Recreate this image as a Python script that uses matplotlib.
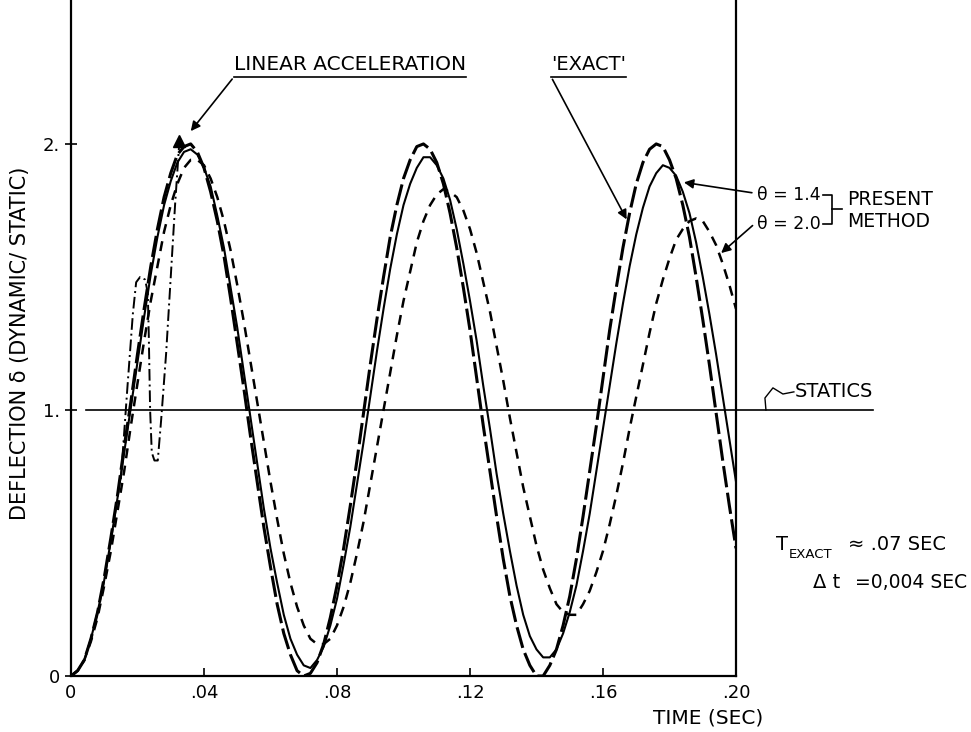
import matplotlib
matplotlib.use('Agg')
import matplotlib.pyplot as plt

plt.rcParams['font.family'] = ['DejaVu Sans']

# time axis, one reading every 0.002 sec
t = [i * 0.002 for i in range(101)]

# 'EXACT' solution
exact = [0.00,0.02,0.06,0.14,0.24,0.37,0.52,0.68,0.86,1.03,1.21,1.38,1.54,1.68,1.80,1.89,1.96,1.99,2.00,1.97,
         1.91,1.82,1.71,1.58,1.42,1.25,1.08,0.90,0.73,0.56,0.41,0.27,0.16,0.08,0.02,0.00,0.01,0.05,0.12,0.22,
         0.34,0.48,0.64,0.81,0.99,1.17,1.34,1.50,1.65,1.77,1.87,1.94,1.99,2.00,1.98,1.93,1.85,1.74,1.61,1.46,
         1.30,1.12,0.94,0.77,0.60,0.44,0.30,0.19,0.10,0.04,0.00,0.00,0.04,0.10,0.19,0.30,0.44,0.60,0.77,0.94,
         1.12,1.30,1.46,1.61,1.74,1.85,1.93,1.98,2.00,1.99,1.94,1.87,1.77,1.65,1.50,1.34,1.17,0.99,0.81,0.64,0.48]

# present method, theta = 1.4
theta_14 = [0.00,0.02,0.06,0.14,0.24,0.36,0.51,0.67,0.84,1.01,1.18,1.35,1.51,1.65,1.77,1.86,1.93,1.97,1.98,1.96,
            1.91,1.84,1.73,1.61,1.46,1.31,1.14,0.97,0.80,0.63,0.48,0.35,0.23,0.14,0.08,0.04,0.03,0.06,0.11,0.19,
            0.29,0.42,0.56,0.72,0.88,1.05,1.22,1.38,1.53,1.66,1.77,1.85,1.91,1.95,1.95,1.92,1.87,1.79,1.68,1.55,
            1.41,1.26,1.09,0.93,0.76,0.61,0.47,0.34,0.23,0.15,0.10,0.07,0.07,0.10,0.16,0.24,0.34,0.47,0.61,0.77,
            0.93,1.09,1.25,1.40,1.54,1.66,1.76,1.84,1.89,1.92,1.91,1.88,1.82,1.74,1.63,1.50,1.36,1.21,1.05,0.89,0.73]

# present method, theta = 2.0
theta_20 = [0.00,0.02,0.06,0.13,0.22,0.34,0.47,0.62,0.77,0.94,1.10,1.26,1.41,1.54,1.67,1.77,1.85,1.91,1.94,1.94,
            1.92,1.87,1.80,1.71,1.60,1.47,1.33,1.18,1.03,0.88,0.73,0.59,0.46,0.35,0.26,0.19,0.14,0.12,0.12,0.14,
            0.19,0.26,0.35,0.46,0.58,0.72,0.86,1.00,1.14,1.28,1.41,1.52,1.63,1.71,1.77,1.81,1.83,1.82,1.80,1.75,
            1.68,1.59,1.48,1.37,1.24,1.11,0.97,0.84,0.71,0.60,0.49,0.40,0.33,0.27,0.24,0.23,0.23,0.27,0.32,0.39,
            0.47,0.57,0.68,0.80,0.93,1.05,1.17,1.29,1.40,1.49,1.57,1.64,1.68,1.71,1.72,1.71,1.67,1.62,1.55,1.47,1.38]

# linear acceleration method (leaves the exact curve early)
lin_t = [0.0150, 0.0170, 0.0186, 0.0196, 0.0208, 0.0223, 0.0231, 0.0234, 0.0238,
         0.0243, 0.0251, 0.0261, 0.0271, 0.0286, 0.0301, 0.0313, 0.0326]
lin_v = [0.74, 1.09, 1.36, 1.48, 1.50, 1.49, 1.44, 1.28, 1.00,
         0.84, 0.81, 0.81, 0.96, 1.21, 1.52, 1.77, 2.01]

statics = 1.0

x_ticks = [0, .04, .08, .12, .16, .20]
x_labels = ['0', '.04', '.08', '.12', '.16', '.20']
y_ticks = [0, 1, 2]
y_labels = ['0', '1.', '2.']

fig = plt.figure(figsize=(9.71, 7.32), dpi=100)
ax = fig.add_axes([0.0731, 0.0765, 0.6849, 0.9235])
ax.set_xlim(0, 0.2)
ax.set_ylim(0, 2.541)

ax.plot(t, theta_14, color='black', lw=1.5)
ax.plot(t, exact, color='black', lw=2.2, dashes=(7, 1.8))
ax.plot(t, theta_20, color='black', lw=1.8, dashes=(4, 3))
ax.plot(lin_t, lin_v, color='black', lw=1.4, dashes=(6, 2, 1, 2))
ax.plot(lin_t[-1], lin_v[-1], marker='^', ms=9, color='black')

# statics line runs out past the frame to its label
ax.plot([0.0045, 0.2412], [statics, statics], color='black', lw=1.2, clip_on=False)

ax.spines['top'].set_visible(False)
for s in ['left', 'right', 'bottom']:
    ax.spines[s].set_linewidth(1.6)

ax.set_xticks(x_ticks)
ax.set_xticklabels(x_labels)
ax.set_yticks(y_ticks)
ax.set_yticklabels(y_labels)
ax.tick_params(axis='x', direction='in', length=6, width=1.2, pad=6, labelsize=13)
ax.tick_params(axis='y', direction='inout', length=8, width=1.2, pad=4, labelsize=13)

fig.text(20/971, 1-343/732, 'DEFLECTION δ (DYNAMIC/ STATIC)', rotation=90,
         ha='center', va='center', fontsize=15)
fig.text(708/971, 1-718/732, 'TIME (SEC)', ha='center', va='center', fontsize=14.5)

arrow = dict(arrowstyle='-|>', color='black', lw=1.2, mutation_scale=14)

ax.text(0.049, 2.262, 'LINEAR ACCELERATION', ha='left', va='bottom', fontsize=14.5)
ax.plot([0.049, 0.1188], [2.252, 2.252], color='black', lw=1.2, clip_on=False)
ax.annotate('', xy=(0.0355, 2.04), xytext=(0.049, 2.252), arrowprops=arrow, annotation_clip=False)

ax.text(0.1444, 2.262, "'EXACT'", ha='left', va='bottom', fontsize=14)
ax.plot([0.1444, 0.1669], [2.252, 2.252], color='black', lw=1.2, clip_on=False)
ax.annotate('', xy=(0.1675, 1.707), xytext=(0.1444, 2.252), arrowprops=arrow, annotation_clip=False)

ax.text(0.2062, 1.808, 'θ = 1.4', ha='left', va='center', fontsize=12.5)
ax.annotate('', xy=(0.1835, 1.857), xytext=(0.2056, 1.815), arrowprops=arrow, annotation_clip=False)
ax.text(0.2062, 1.699, 'θ = 2.0', ha='left', va='center', fontsize=12.5)
ax.annotate('', xy=(0.1949, 1.583), xytext=(0.2056, 1.70), arrowprops=arrow, annotation_clip=False)
ax.plot([0.2262, 0.2288, 0.2288, 0.2262], [1.808, 1.808, 1.699, 1.699], color='black', lw=1.2, clip_on=False)
ax.plot([0.2288, 0.2318], [1.754, 1.754], color='black', lw=1.2, clip_on=False)
ax.text(0.2333, 1.79, 'PRESENT', ha='left', va='center', fontsize=13.5)
ax.text(0.2333, 1.707, 'METHOD', ha='left', va='center', fontsize=13.5)

ax.plot([0.209, 0.2087, 0.2111, 0.2141, 0.2174], [1.0, 1.045, 1.083, 1.06, 1.068],
        color='black', lw=1.0, clip_on=False)
ax.text(0.2178, 1.07, 'STATICS', ha='left', va='center', fontsize=14)

fig.text(776/971, 1-545/732, 'T', ha='left', va='center', fontsize=14)
fig.text(789/971, 1-554/732, 'EXACT', ha='left', va='center', fontsize=9.5)
fig.text(848/971, 1-545/732, '≈ .07 SEC', ha='left', va='center', fontsize=14)
fig.text(813/971, 1-583/732, 'Δ t', ha='left', va='center', fontsize=14)
fig.text(855/971, 1-583/732, '=0,004 SEC', ha='left', va='center', fontsize=13.5)

fig.savefig('out.png', dpi=100)
